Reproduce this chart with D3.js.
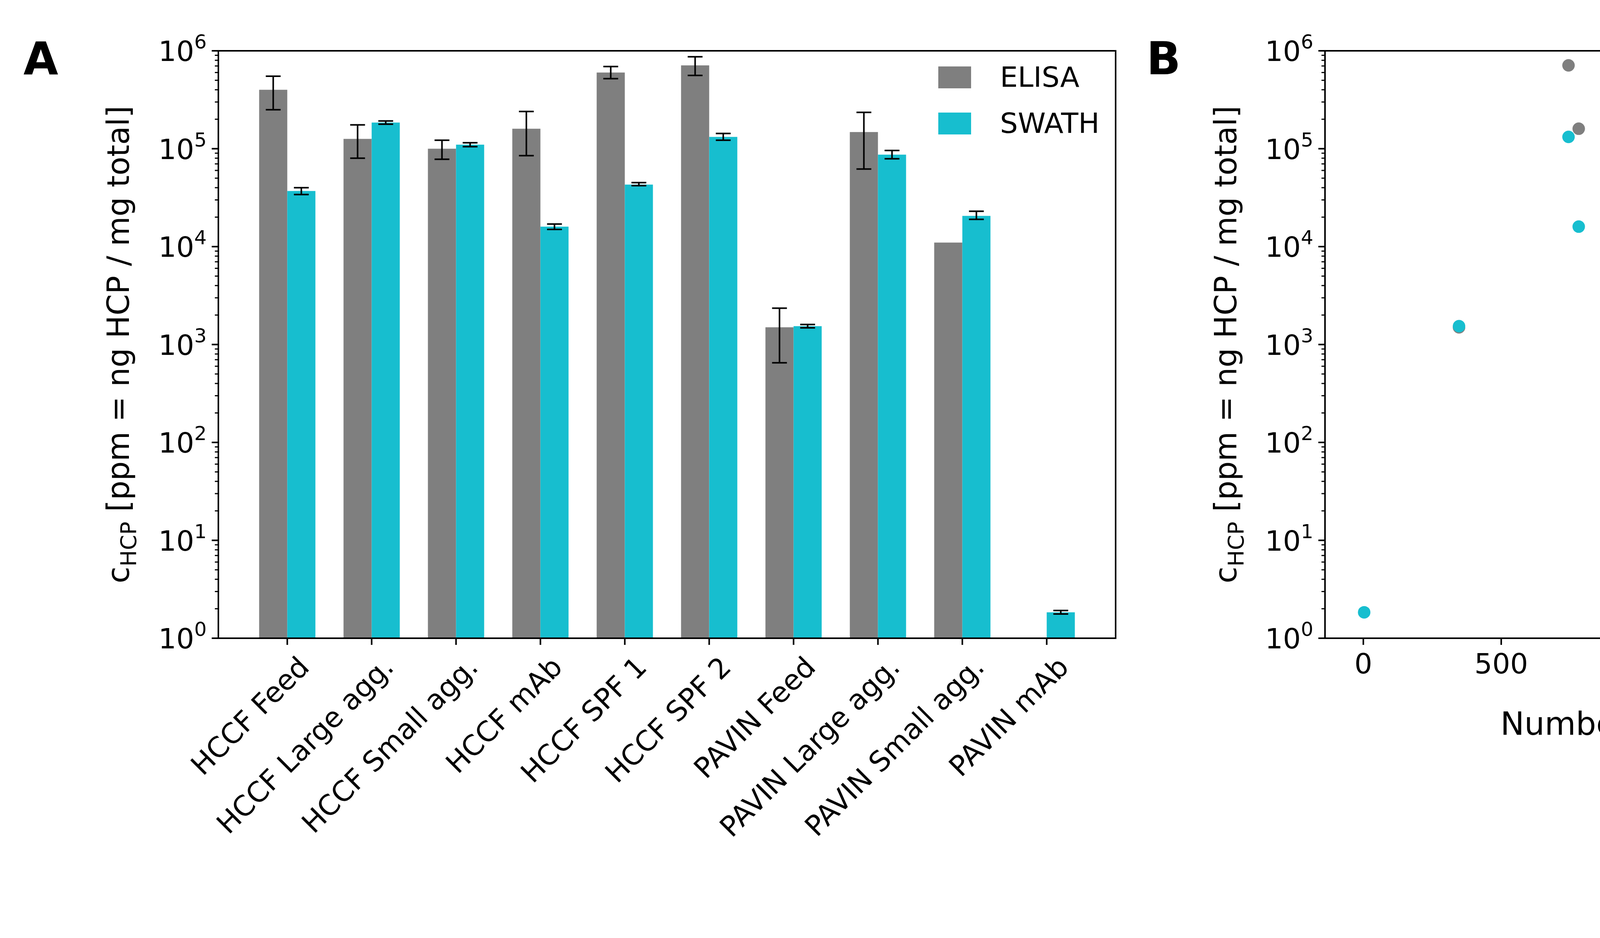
<!DOCTYPE html>
<html><head><meta charset="utf-8">
<script src="https://cdn.jsdelivr.net/npm/d3@7"></script>
<style>body{margin:0;background:#fff}text{font-family:"DejaVu Sans",sans-serif}</style>
</head><body><svg id="c" width="5100" height="2400"></svg>
<script>
const categories=["HCCF Feed","HCCF Large agg.","HCCF Small agg.","HCCF mAb","HCCF SPF 1","HCCF SPF 2","PAVIN Feed","PAVIN Large agg.","PAVIN Small agg.","PAVIN mAb"];
const elisa=[4.0e5,1.26e5,1.0e5,1.6e5,6.0e5,7.1e5,1.5e3,1.48e5,1.1e4,null];
const elisaLo=[2.5e5,8.0e4,7.8e4,8.5e4,5.2e5,5.6e5,650,6.2e4,null,null];
const elisaHi=[5.5e5,1.75e5,1.22e5,2.4e5,6.9e5,8.7e5,2.35e3,2.35e5,null,null];
const swath=[3.7e4,1.85e5,1.1e5,1.6e4,4.3e4,1.32e5,1.54e3,8.7e4,2.06e4,1.84];
const swathLo=[3.4e4,1.78e5,1.05e5,1.5e4,4.2e4,1.22e5,1.48e3,7.9e4,1.9e4,1.77];
const swathHi=[4.0e4,1.92e5,1.15e5,1.7e4,4.5e4,1.43e5,1.6e3,9.6e4,2.3e4,1.92];
const nHCP=[1130,1977,1633,781,1160,744,347,1881,941,3];
const yTicks=[1,10,100,1e3,1e4,1e5,1e6];
const xTicksB=[0,500,1000,1500,2000];
const GRAY="#7f7f7f",CYAN="#17becf";
const svg=d3.select("#c");
const TOP=130,BOT=1633,FS=72;
function yAxis(g,y,x0){
  const minor=[];for(let e=0;e<6;e++)for(let k=2;k<10;k++)minor.push(k*10**e);
  g.selectAll(".mn").data(minor).join("line").attr("x1",x0-9).attr("x2",x0).attr("y1",d=>y(d)).attr("y2",d=>y(d)).attr("stroke","#000").attr("stroke-width",3);
  g.selectAll(".mj").data(yTicks).join("line").attr("x1",x0-17).attr("x2",x0).attr("y1",d=>y(d)).attr("y2",d=>y(d)).attr("stroke","#000").attr("stroke-width",4);
  const t=g.selectAll(".tl").data(yTicks).join("text").attr("x",x0-30).attr("y",d=>y(d)+26).attr("text-anchor","end").attr("font-size",FS);
  t.append("tspan").text("10");
  t.append("tspan").attr("dy",-32).attr("font-size",50).text((d,i)=>i);
}
function yLabel(x){
  const t=svg.append("text").attr("transform",`translate(${x},${(TOP+BOT)/2}) rotate(-90)`).attr("text-anchor","middle").attr("font-size",78);
  t.append("tspan").text("c");
  t.append("tspan").attr("dy",18).attr("font-size",56).text("HCP");
  t.append("tspan").attr("dy",-18).text(" [ppm = ng HCP / mg total]");
}
// Panel A
const L=559,R=2856;
const x=d3.scaleLinear().domain([-0.8167,9.8167]).range([L,R]);
const y=d3.scaleLog().domain([1,1e6]).range([BOT,TOP]);
const w=1/3;
const gA=svg.append("g");
gA.selectAll(".be").data(elisa.map((v,i)=>({v,i})).filter(d=>d.v)).join("rect")
 .attr("x",d=>x(d.i-w)).attr("width",x(w)-x(0)).attr("y",d=>y(d.v)).attr("height",d=>BOT-y(d.v)).attr("fill",GRAY);
gA.selectAll(".bs").data(swath.map((v,i)=>({v,i}))).join("rect")
 .attr("x",d=>x(d.i)).attr("width",x(w)-x(0)).attr("y",d=>y(d.v)).attr("height",d=>BOT-y(d.v)).attr("fill",CYAN);
function err(lo,hi,off){
  const d=lo.map((l,i)=>({l,h:hi[i],i})).filter(e=>e.l!=null);
  const cw=19;
  d.forEach(e=>{
    const cx=x(e.i+off);
    gA.append("line").attr("x1",cx).attr("x2",cx).attr("y1",y(e.l)).attr("y2",y(e.h)).attr("stroke","#000").attr("stroke-width",4);
    [e.l,e.h].forEach(v=>gA.append("line").attr("x1",cx-cw).attr("x2",cx+cw).attr("y1",y(v)).attr("y2",y(v)).attr("stroke","#000").attr("stroke-width",4));
  });
}
err(elisaLo,elisaHi,-w/2);err(swathLo,swathHi,w/2);
gA.append("rect").attr("x",L).attr("y",TOP).attr("width",R-L).attr("height",BOT-TOP).attr("fill","none").attr("stroke","#000").attr("stroke-width",4);
yAxis(gA,y,L);
categories.forEach((c,i)=>{
  gA.append("line").attr("x1",x(i)).attr("x2",x(i)).attr("y1",BOT).attr("y2",BOT+17).attr("stroke","#000").attr("stroke-width",4);
  gA.append("text").attr("transform",`translate(${x(i)+22},${BOT+40}) rotate(-45)`).attr("text-anchor","end").attr("dy","0.75em").attr("font-size",FS).text(c);
});
yLabel(330);
[["ELISA",GRAY],["SWATH",CYAN]].forEach((d,i)=>{
  gA.append("rect").attr("x",2402).attr("y",170+i*118).attr("width",84).attr("height",56).attr("fill",d[1]);
  gA.append("text").attr("x",2560).attr("y",222+i*118).attr("font-size",FS).text(d[0]);
});
svg.append("text").attr("x",60).attr("y",190).attr("font-size",115).attr("font-weight","bold").text("A");
// Panel B
const BL=3392,BR=4960;
const xb=d3.scaleLinear().domain([-139,2082]).range([BL,BR]);
const gB=svg.append("g");
gB.append("rect").attr("x",BL).attr("y",TOP).attr("width",BR-BL).attr("height",BOT-TOP).attr("fill","none").attr("stroke","#000").attr("stroke-width",4);
gB.selectAll(".pe").data(elisa.map((v,i)=>({v,n:nHCP[i]})).filter(d=>d.v)).join("circle")
 .attr("cx",d=>xb(d.n)).attr("cy",d=>y(d.v)).attr("r",16).attr("fill",GRAY);
gB.selectAll(".ps").data(swath.map((v,i)=>({v,n:nHCP[i]}))).join("circle")
 .attr("cx",d=>xb(d.n)).attr("cy",d=>y(d.v)).attr("r",16).attr("fill",CYAN);
yAxis(gB,y,BL);
xTicksB.forEach(t=>{
  gB.append("line").attr("x1",xb(t)).attr("x2",xb(t)).attr("y1",BOT).attr("y2",BOT+17).attr("stroke","#000").attr("stroke-width",4);
  gB.append("text").attr("x",xb(t)).attr("y",BOT+90).attr("text-anchor","middle").attr("font-size",FS).text(t);
});
svg.append("text").attr("x",(BL+BR)/2).attr("y",1880).attr("text-anchor","middle").attr("font-size",82).text("Number of HCPs");
yLabel(3165);
svg.append("text").attr("x",2935).attr("y",190).attr("font-size",115).attr("font-weight","bold").text("B");
gB.append("rect").attr("x",4427).attr("y",1323).attr("width",485).attr("height",265).attr("rx",12).attr("fill","#fff").attr("stroke","#d0d0d0").attr("stroke-width",4);
[["ELISA",GRAY],["SWATH",CYAN]].forEach((d,i)=>{
  gB.append("circle").attr("cx",4520).attr("cy",1398+i*115).attr("r",16).attr("fill",d[1]);
  gB.append("text").attr("x",4600).attr("y",1424+i*115).attr("font-size",FS).text(d[0]);
});
</script></body></html>
